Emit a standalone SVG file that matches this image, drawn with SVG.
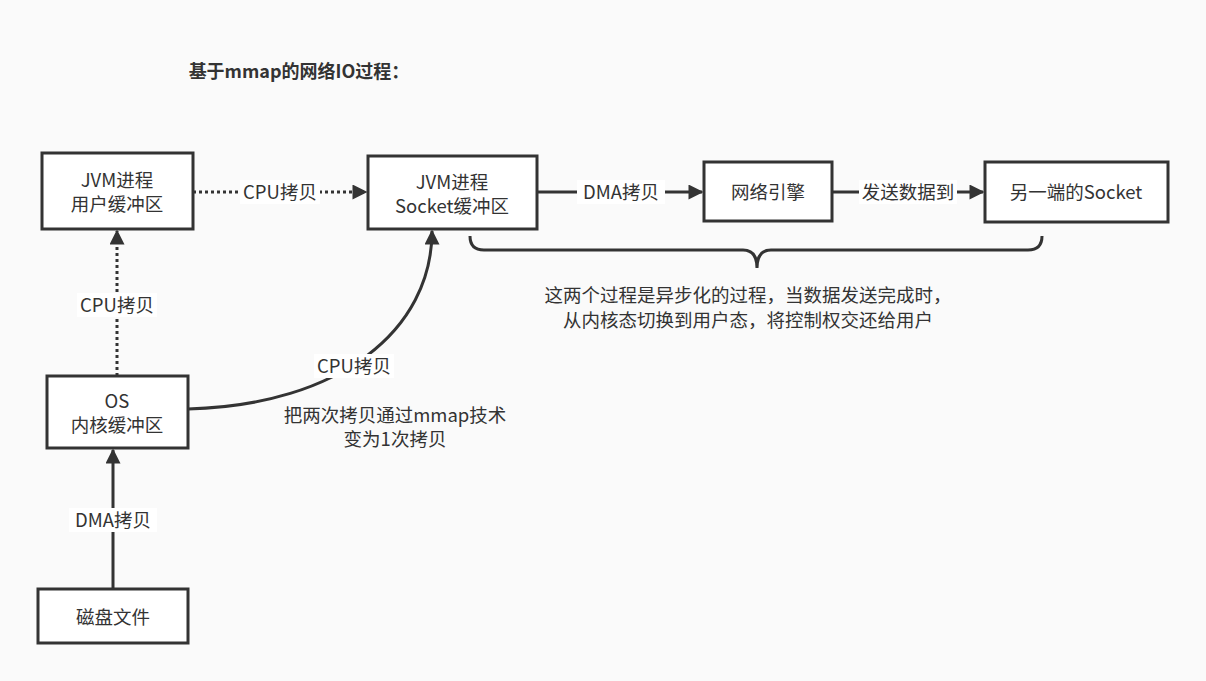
<svg xmlns="http://www.w3.org/2000/svg" width="1206" height="681" viewBox="0 0 1206 681">
<style>
text{font-family:"Microsoft YaHei","Noto Sans CJK SC","Noto Sans",sans-serif;fill:#333;font-size:18.5px;text-anchor:middle}
.box{fill:#fff;stroke:#333;stroke-width:3}
.ln{fill:none;stroke:#333;stroke-width:3}
.dot{stroke-dasharray:3 3}
.lbl{fill:#fff}
</style>
<defs>
<marker id="ah" viewBox="0 0 10 10" refX="9" refY="5" markerWidth="6.5" markerHeight="5" markerUnits="strokeWidth" orient="auto">
<path d="M0,0 L10,5 L0,10 z" fill="#333"/>
</marker>
</defs>
<rect width="1206" height="681" fill="#fafafa"/>
<text x="299" y="78" style="font-weight:bold;font-size:18px">基于mmap的网络IO过程：</text>

<g id="connectors">
<path class="ln dot" d="M193,192 L366,192" marker-end="url(#ah)"/>
<rect class="lbl" x="240" y="180" width="80" height="24"/>
<text x="280" y="199">CPU拷贝</text>
<path class="ln" d="M538,192 L702,192" marker-end="url(#ah)"/>
<rect class="lbl" x="577" y="180" width="88" height="24"/>
<text x="621" y="199">DMA拷贝</text>
<path class="ln" d="M832,192 L983,192" marker-end="url(#ah)"/>
<rect class="lbl" x="859" y="180" width="98" height="24"/>
<text x="908" y="199">发送数据到</text>
<path class="ln dot" d="M117,376 L117,231" marker-end="url(#ah)"/>
<rect class="lbl" x="77" y="293" width="80" height="24"/>
<text x="117" y="312">CPU拷贝</text>
<path class="ln" d="M113,589 L113,450" marker-end="url(#ah)"/>
<rect class="lbl" x="69" y="508" width="88" height="24"/>
<text x="113" y="527">DMA拷贝</text>
<path class="ln" d="M188,409 C340,405 432,330 432,231" marker-end="url(#ah)"/>
<rect class="lbl" x="314" y="354" width="80" height="24"/>
<text x="354" y="373">CPU拷贝</text>
<path class="ln" stroke-width="2" d="M470,236 Q470,250 484,250 L743,250 Q757,250 757,268 Q757,250 771,250 L1028,250 Q1042,250 1042,236"/>
</g>

<g id="n1"><rect class="box" x="42" y="153" width="151" height="76"/>
<text x="117" y="187">JVM进程</text><text x="117" y="211">用户缓冲区</text></g>
<g id="n2"><rect class="box" x="368" y="156" width="169" height="73"/>
<text x="452" y="189">JVM进程</text><text x="452" y="213">Socket缓冲区</text></g>
<g id="n3"><rect class="box" x="704" y="162" width="128" height="59"/>
<text x="768" y="199">网络引擎</text></g>
<g id="n4"><rect class="box" x="985" y="162" width="183" height="60"/>
<text x="1076" y="199">另一端的Socket</text></g>
<g id="n5"><rect class="box" x="47" y="376" width="141" height="72"/>
<text x="117" y="408">OS</text><text x="117" y="432">内核缓冲区</text></g>
<g id="n6"><rect class="box" x="38" y="589" width="150" height="54"/>
<text x="113" y="624">磁盘文件</text></g>

<g id="notes">
<text x="395" y="422">把两次拷贝通过mmap技术</text>
<text x="395" y="446">变为1次拷贝</text>
<text x="748" y="302">这两个过程是异步化的过程，当数据发送完成时，</text>
<text x="748" y="327">从内核态切换到用户态，将控制权交还给用户</text>
</g>
</svg>
